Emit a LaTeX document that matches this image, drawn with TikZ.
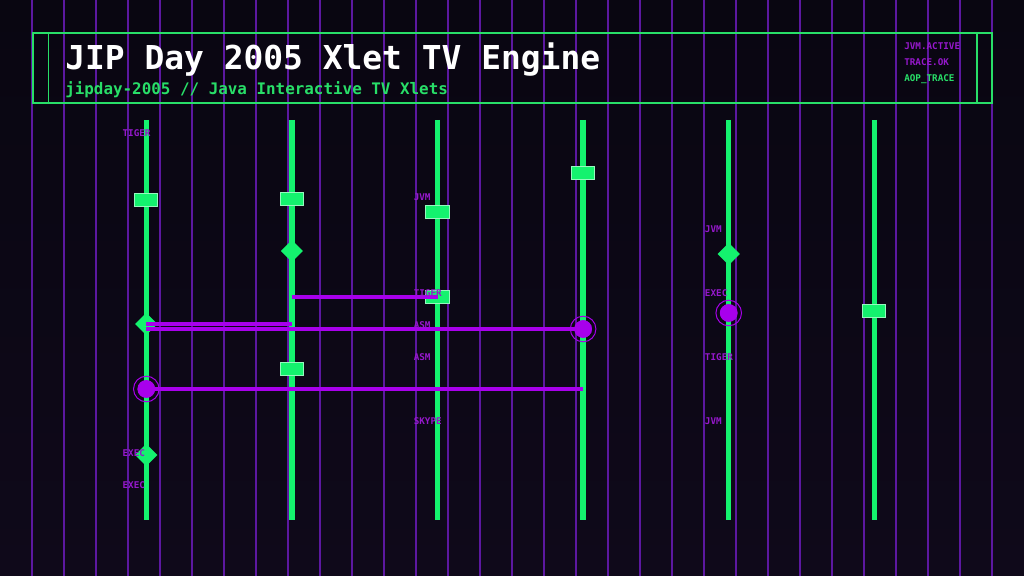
\documentclass[tikz,border=0pt]{standalone}
\usepackage{fontspec}
\setmonofont{DejaVu Sans Mono}
\usepackage{tikz}
\usetikzlibrary{shapes,shapes.geometric,positioning,calc}

\definecolor{bgtop}{RGB}{9,6,17}
\definecolor{bgbot}{RGB}{15,9,26}
\definecolor{gridpurple}{RGB}{92,24,160}
\definecolor{neongreen}{RGB}{20,242,110}
\definecolor{framegreen}{RGB}{40,222,104}
\definecolor{msgviolet}{RGB}{168,0,236}
\definecolor{tagpurple}{RGB}{150,24,204}

\tikzset{
    gridline/.style={gridpurple, line width=0.8pt},
    frame/.style={framegreen, line width=1.4pt},
    lifeline/.style={neongreen, line width=3.8pt},
    actbox/.style={rectangle, fill=neongreen, draw=neongreen!45!white, line width=0.6pt,
        minimum width=0.58cm, minimum height=0.33cm, inner sep=0pt},
    gate/.style={diamond, fill=neongreen, minimum size=0.56cm, inner sep=0pt},
    hit/.style={circle, fill=msgviolet, minimum size=0.44cm, inner sep=0pt},
    hitring/.style={msgviolet, line width=0.7pt},
    msg/.style={msgviolet, line width=2.9pt},
    tag/.style={anchor=mid west, inner sep=0pt, text=tagpurple,
        font=\ttfamily\bfseries\fontsize{6.6}{7}\selectfont},
}

\begin{document}
\begin{tikzpicture}[x=0.025cm, y=-0.025cm]

    % --- canvas (1024 x 576 px grid units) ---
            \useasboundingbox (0,0) rectangle (1024,576);
            \shade[top color=bgtop, bottom color=bgbot] (0,0) rectangle (1024,576);
            \foreach \gx in {32,64,...,992}
                \draw[gridline] (\gx,0) -- (\gx,576);

    % --- header ---
            \draw[frame] (33,33) rectangle (992,103);
            \draw[frame] (48.5,33) -- (48.5,103);
            \draw[frame] (976.5,33) -- (976.5,103);
            \node[anchor=base west, inner sep=0pt, text=white,
                font=\ttfamily\bfseries\fontsize{23.4}{26}\selectfont] (title) at (65,70) {JIP Day 2005 Xlet TV Engine};
            \node[anchor=base west, inner sep=0pt, text=framegreen,
                font=\ttfamily\bfseries\fontsize{11.3}{13}\selectfont] (subtitle) at (65,94.5) {jipday-2005 // Java Interactive TV Xlets};
            \node[tag] (st1) at (904,46) {JVM.ACTIVE};
            \node[tag] (st2) at (904,62) {TRACE.OK};
            \node[tag, text=framegreen] (st3) at (904,78) {AOP\_TRACE};

    % --- lifelines ---
            \foreach \i in {1,...,6} {
                \pgfmathsetmacro\lx{146.3+145.6*(\i-1)}
                \coordinate (top\i) at (\lx,120);
                \coordinate (bot\i) at (\lx,520);
            }
            \foreach \i in {1,...,6}
                \draw[lifeline] (top\i) -- (bot\i);

    % --- activations and gates ---
            \node[actbox] (act1) at (top1 |- 0,200) {};
            \node[actbox] (act2) at (top2 |- 0,199) {};
            \node[actbox] (act3) at (top3 |- 0,212) {};
            \node[actbox] (act4) at (top3 |- 0,297) {};
            \node[actbox] (act5) at (top4 |- 0,173) {};
            \node[actbox] (act6) at (top2 |- 0,369) {};
            \node[actbox] (act7) at (top6 |- 0,311) {};
            \node[gate] (gate1) at (top2 |- 0,251) {};
            \node[gate] (gate2) at (top5 |- 0,254) {};
            \node[gate] (gate3) at (top1 |- 0,324) {};
            \node[gate] (gate4) at (top1 |- 0,455) {};

    % --- messages ---
            \coordinate (m1) at (top2 |- act4);
            \coordinate (m2) at (top2 |- gate3);
            \coordinate (m3) at (top4 |- 0,389);
            \draw[msg] (m1) -- (act4.center);
            \draw[msg] (gate3.center) -- (m2);
            \node[hit] (hit1) at (top4 |- 0,329) {};
            \node[hit] (hit2) at (top5 |- 0,313) {};
            \node[hit] (hit3) at (top1 |- m3) {};
            \coordinate (m4) at (top1 |- hit1);
            \draw[msg] (m4) -- (hit1.center);
            \draw[msg] (hit3.center) -- (m3);
            % redraw markers above the message lines
            \foreach \h in {hit1,hit2,hit3} {
                \node[hit] at (\h) {};
                \draw[hitring] (\h) circle (0.32cm);
            }

    % --- lifeline tags ---
            \node[tag] (tg1) at (122.3,133) {TIGER};
            \node[tag] (tg2) at (122.3,453) {EXEC};
            \node[tag] (tg3) at (122.3,485) {EXEC};
            \node[tag] (tg4) at (413.5,197) {JVM};
            \node[tag] (tg5) at (413.5,293) {TIGER};
            \node[tag] (tg6) at (413.5,325) {ASM};
            \node[tag] (tg7) at (413.5,357) {ASM};
            \node[tag] (tg8) at (413.5,421) {SKYPE};
            \node[tag] (tg9) at (704.7,229) {JVM};
            \node[tag] (tg10) at (704.7,293) {EXEC};
            \node[tag] (tg11) at (704.7,357) {TIGER};
            \node[tag] (tg12) at (704.7,421) {JVM};

\end{tikzpicture}
\end{document}
